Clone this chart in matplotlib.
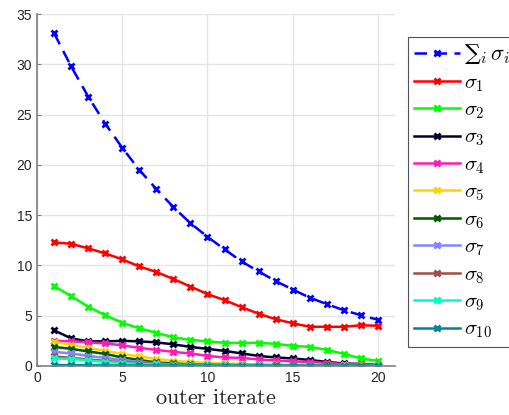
import matplotlib
matplotlib.use("Agg")
import matplotlib.pyplot as plt
import numpy as np

plt.rcParams['mathtext.fontset'] = 'cm'
plt.rcParams['font.family'] = ['Liberation Sans', 'DejaVu Sans']

iters = list(range(1, 21))

sigma_sum = [33.1, 29.8, 26.8, 24.1, 21.7, 19.5, 17.6, 15.8, 14.2, 12.85,
             11.6, 10.4, 9.4, 8.45, 7.6, 6.8, 6.15, 5.55, 5.05, 4.6]
sigma1 = [12.3, 12.15, 11.7, 11.2, 10.6, 9.9, 9.35, 8.65, 7.9, 7.15,
          6.55, 5.85, 5.2, 4.65, 4.25, 3.9, 3.9, 3.9, 4.05, 4.0]
sigma2 = [7.95, 6.95, 5.9, 5.05, 4.3, 3.75, 3.3, 2.85, 2.6, 2.45,
          2.3, 2.3, 2.3, 2.2, 2.0, 1.9, 1.6, 1.2, 0.75, 0.5]
sigma3 = [3.55, 2.75, 2.45, 2.45, 2.5, 2.45, 2.35, 2.15, 1.9, 1.7,
          1.5, 1.25, 1.0, 0.85, 0.75, 0.6, 0.4, 0.25, 0.2, 0.1]
sigma4 = [2.5, 2.45, 2.35, 2.25, 2.05, 1.8, 1.6, 1.4, 1.25, 1.0,
          0.85, 0.8, 0.65, 0.55, 0.45, 0.4, 0.3, 0.2, 0.15, 0.1]
sigma5 = [2.4, 2.1, 1.8, 1.5, 1.2, 0.95, 0.7, 0.5, 0.4, 0.3,
          0.25, 0.2, 0.18, 0.15, 0.12, 0.1, 0.08, 0.07, 0.06, 0.05]
sigma6 = [1.9, 1.7, 1.45, 1.2, 0.85, 0.6, 0.35, 0.25, 0.15, 0.12,
          0.1, 0.09, 0.08, 0.07, 0.06, 0.05, 0.05, 0.04, 0.04, 0.03]
sigma7 = [1.4, 1.25, 1.0, 0.8, 0.6, 0.4, 0.25, 0.15, 0.12, 0.1,
          0.09, 0.08, 0.07, 0.06, 0.05, 0.05, 0.04, 0.04, 0.03, 0.03]
sigma8 = [0.95, 0.8, 0.65, 0.5, 0.38, 0.28, 0.2, 0.15, 0.1, 0.08,
          0.07, 0.06, 0.05, 0.05, 0.04, 0.04, 0.03, 0.03, 0.03, 0.02]
sigma9 = [0.75, 0.7, 0.55, 0.4, 0.3, 0.2, 0.15, 0.1, 0.08, 0.07,
          0.06, 0.05, 0.05, 0.04, 0.04, 0.03, 0.03, 0.03, 0.02, 0.02]
sigma10 = [0.1, 0.08, 0.07, 0.06, 0.05, 0.05, 0.04, 0.04, 0.04, 0.03,
           0.03, 0.03, 0.03, 0.02, 0.02, 0.02, 0.02, 0.02, 0.02, 0.02]

series = [sigma1, sigma2, sigma3, sigma4, sigma5, sigma6, sigma7, sigma8, sigma9, sigma10]
labels = [r'$\sigma_{%d}$' % (i + 1) for i in range(10)]
colors = ['#ff0000', '#00ff00', '#00002c', '#ff1ab9', '#ffd300', '#005800',
          '#8484ff', '#9e4f46', '#00ffc1', '#008495']

fig = plt.figure(figsize=(5.09, 4.15), dpi=100)
ax = fig.add_axes([0.0727, 0.1181, 0.7033, 0.848])

ax.plot(iters, sigma_sum, color='#0000ff', linestyle=(0, (5, 3)), linewidth=1.8,
        marker='x', markersize=5, markeredgewidth=2, label='\u2211$_i\\,\\sigma_i$')
for s, lab, c in zip(series, labels, colors):
    ax.plot(iters, s, color=c, linewidth=1.8, marker='x', markersize=5,
            markeredgewidth=2, label=lab)

ax.set_xlim(0, 21)
ax.set_ylim(0, 35)
ax.set_xticks([0, 5, 10, 15, 20])
ax.set_yticks(range(0, 36, 5))
ax.grid(True, color='#e5e5e5', linewidth=1)
ax.set_axisbelow(True)
for sp in ['top', 'right']:
    ax.spines[sp].set_visible(False)
for sp in ['left', 'bottom']:
    ax.spines[sp].set_color('#808080')
    ax.spines[sp].set_linewidth(1.2)
ax.tick_params(direction='in', length=3, colors='#808080', labelcolor='#262626',
               labelsize=10)
ax.set_xlabel(r'$\mathrm{outer\ iterate}$', fontsize=16, color='#262626', labelpad=2)

leg = ax.legend(loc='upper left', bbox_to_anchor=(0.8016, 0.911),
                bbox_transform=fig.transFigure, fontsize=15, frameon=True,
                fancybox=False, edgecolor='#262626', handlelength=2.2,
                handletextpad=0.2, borderpad=0.3, labelspacing=0.33,
                borderaxespad=0)
leg.get_frame().set_linewidth(0.8)
leg.get_texts()[0].set_family(['DejaVu Serif'])
leg.get_texts()[0].set_fontsize(16)
for h in leg.legend_handles:
    h.set_markersize(4)

fig.savefig('out.png', dpi=100)
